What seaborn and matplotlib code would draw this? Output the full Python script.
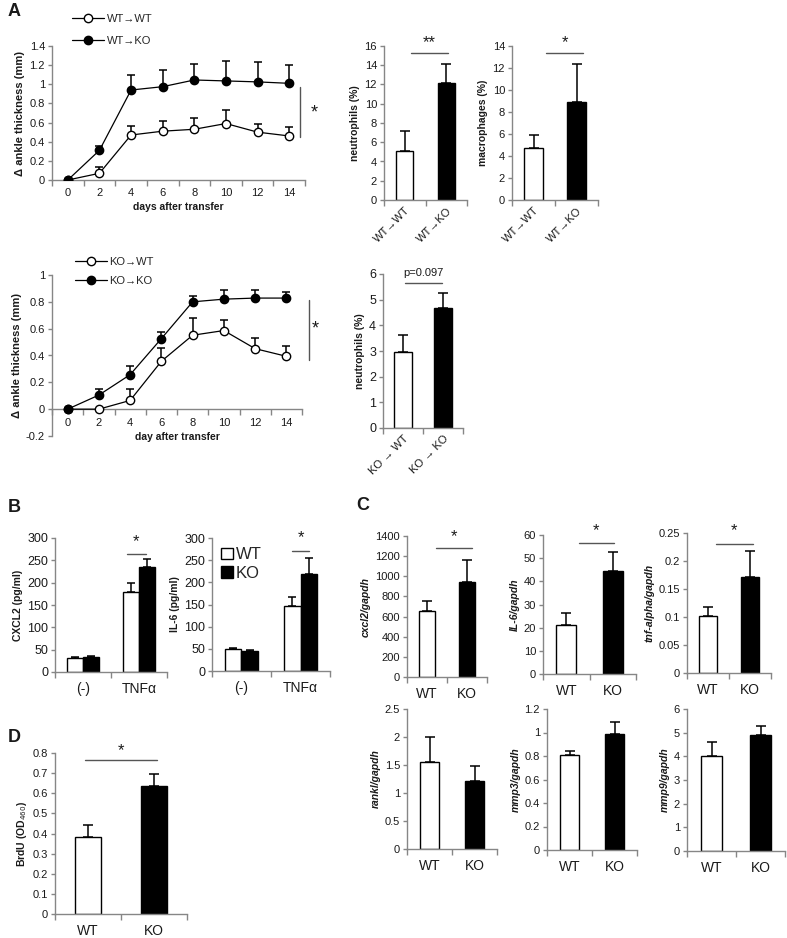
import numpy as np
import pandas as pd
import seaborn as sns
import matplotlib
matplotlib.use('Agg')
from matplotlib import pyplot as plt

# ---- data ----
# A: ankle swelling after transfer
days = [0, 2, 4, 6, 8, 10, 12, 14]
wt_wt = [0, 0.07, 0.47, 0.51, 0.53, 0.59, 0.50, 0.46]
wt_wt_err = [0, 0.07, 0.09, 0.11, 0.12, 0.14, 0.09, 0.09]
wt_ko = [0, 0.31, 0.94, 0.975, 1.045, 1.035, 1.025, 1.01]
wt_ko_err = [0, 0.05, 0.16, 0.175, 0.17, 0.205, 0.205, 0.19]
ko_wt = [0, 0, 0.065, 0.357, 0.551, 0.586, 0.451, 0.394]
ko_wt_err = [0, 0, 0.085, 0.10, 0.125, 0.075, 0.08, 0.08]
ko_ko = [0, 0.105, 0.257, 0.526, 0.80, 0.82, 0.828, 0.828]
ko_ko_err = [0, 0.047, 0.063, 0.05, 0.043, 0.068, 0.06, 0.047]

# A: cell percentages
neut_top = [5.1, 12.2]
neut_top_err = [2.1, 1.9]
macro = [4.75, 8.9]
macro_err = [1.2, 3.5]
neut_bot = [2.96, 4.68]
neut_bot_err = [0.68, 0.59]

# B: cytokines (error order: (-) WT, (-) KO, TNFa WT, TNFa KO)
conditions = ['(-)', 'TNFα']
cxcl2_wt = [30.7, 178.7]
cxcl2_ko = [33, 234.7]
cxcl2_err = [2, 2, 21, 19]
il6_wt = [49, 146]
il6_ko = [45, 219]
il6_err = [3, 2, 21, 36]

# C: mRNA / gapdh
cxcl2_g = [655, 940]
cxcl2_g_err = [97, 222]
il6_g = [21.1, 44.5]
il6_g_err = [5.1, 8.3]
tnf_g = [0.102, 0.172]
tnf_g_err = [0.015, 0.046]
rankl_g = [1.56, 1.21]
rankl_g_err = [0.435, 0.28]
mmp3_g = [0.81, 0.987]
mmp3_g_err = [0.035, 0.105]
mmp9_g = [4.01, 4.90]
mmp9_g_err = [0.61, 0.38]

# D: BrdU
brdu = [0.383, 0.634]
brdu_err = [0.057, 0.063]

sns.set_style('white')
plt.rcParams['font.family'] = ['Liberation Sans', 'DejaVu Sans']
plt.rcParams['axes.linewidth'] = 1.0

W, H = 787, 938
fig = plt.figure(figsize=(W / 100, H / 100), dpi=100)
GREY = '#868686'
TXT = '#1a1a1a'


def px_axes(x0, x1, ytop, ybot):
    return fig.add_axes([x0 / W, 1 - ybot / H, (x1 - x0) / W, (ybot - ytop) / H])


def style(ax, ylim, yticks, ylabel, italic=False, fs=8, lfs=7.5):
    for s in ['top', 'right']:
        ax.spines[s].set_visible(False)
    for s in ['left', 'bottom']:
        ax.spines[s].set_color(GREY)
    ax.set_ylim(*ylim)
    ax.set_yticks(yticks)
    ax.tick_params(axis='y', length=3, width=1, color=GREY, labelsize=fs,
                   labelcolor=TXT, pad=2, direction='out', left=True)
    ax.set_ylabel(ylabel, fontsize=lfs, fontweight='bold',
                  fontstyle='italic' if italic else 'normal', color=TXT, labelpad=3)
    ax.set_xlabel('')


def cat_ticks(ax, n, labels, fs=10, rot=0, pad=6):
    ax.set_xlim(-0.5, n - 0.5)
    ax.set_xticks(range(n))
    ax.set_xticks(np.arange(-0.5, n, 1), minor=True)
    if rot:
        ax.set_xticklabels(labels, rotation=rot, ha='right', rotation_mode='anchor',
                           fontsize=fs, color=TXT)
    else:
        ax.set_xticklabels(labels, fontsize=fs, color=TXT)
    ax.tick_params(axis='x', which='major', length=0, pad=pad, bottom=True)
    ax.tick_params(axis='x', which='minor', length=4, width=1, color=GREY,
                   direction='out', bottom=True)


def draw_err(ax, errs, cap=3.5):
    bars = sorted([b for c in ax.containers for b in c], key=lambda b: b.get_x())
    for b, e in zip(bars, errs):
        x = b.get_x() + b.get_width() / 2
        ax.errorbar(x, b.get_height(), yerr=[[0], [e]], fmt='none', ecolor='black',
                    elinewidth=1.1, capsize=cap, capthick=1.1, zorder=1)


def sig(ax, x0, x1, y, text, ty, fs=12):
    ax.plot([x0, x1], [y, y], color='#555555', lw=1, clip_on=False)
    ax.text((x0 + x1) / 2, ty, text, ha='center', va='center', fontsize=fs,
            color=TXT, clip_on=False)


def pair_bars(ax, labels, vals, errs, width=0.42):
    sns.barplot(x=labels, y=vals, hue=labels, hue_order=labels, order=labels,
                palette=['white', 'black'], edgecolor='black', linewidth=1,
                width=width, legend=False, ax=ax, zorder=2)
    draw_err(ax, errs)


def line_panel(ax, a, a_err, b, b_err, labels):
    ax.errorbar(days, a, yerr=[np.zeros(len(a)), a_err], fmt='none', ecolor='black',
                elinewidth=1.1, capsize=3, capthick=1.1, zorder=1)
    ax.errorbar(days, b, yerr=[np.zeros(len(b)), b_err], fmt='none', ecolor='black',
                elinewidth=1.1, capsize=3, capthick=1.1, zorder=1)
    sns.lineplot(x=days, y=a, ax=ax, color='black', marker='o', markerfacecolor='white',
                 markeredgecolor='black', markersize=6, markeredgewidth=1,
                 linewidth=0.9, label=labels[0], zorder=3)
    sns.lineplot(x=days, y=b, ax=ax, color='black', marker='o', markerfacecolor='black',
                 markeredgecolor='black', markersize=6, markeredgewidth=1,
                 linewidth=0.9, label=labels[1], zorder=3)
    ax.set_xlim(-1, 15)
    ax.set_xticks(days)
    ax.set_xticks(np.arange(-1, 16, 2), minor=True)
    ax.set_xticklabels([str(d) for d in days], fontsize=8, color=TXT)
    ax.tick_params(axis='x', which='major', length=0, pad=6, bottom=True)
    ax.tick_params(axis='x', which='minor', length=4, width=1, color=GREY,
                   direction='out', bottom=True)


# ---------------- A top: line chart ----------------
ax = px_axes(52, 305, 46, 180)
line_panel(ax, wt_wt, wt_wt_err, wt_ko, wt_ko_err, ['WT→WT', 'WT→KO'])
style(ax, (0, 1.4), [0, 0.2, 0.4, 0.6, 0.8, 1, 1.2, 1.4], 'Δ ankle thickness (mm)', lfs=8)
ax.set_yticklabels(['0', '0.2', '0.4', '0.6', '0.8', '1', '1.2', '1.4'])
ax.set_xlabel('days after transfer', fontsize=7.5, fontweight='bold', color=TXT, labelpad=3)
ax.legend(loc='upper left', bbox_to_anchor=(0.08, 1.24), frameon=False, fontsize=8,
          handlelength=2.9, labelspacing=1.1, borderaxespad=0, borderpad=0,
          handletextpad=0.2)
ax.plot([14.7, 14.7], [0.45, 0.97], color='#555555', lw=1, clip_on=False)
ax.text(15.6, 0.70, '*', fontsize=13, ha='center', va='center', color=TXT, clip_on=False)

# A top: neutrophils
ax = px_axes(384, 467, 46, 200)
pair_bars(ax, ['WT→WT', 'WT→KO'], neut_top, neut_top_err, width=0.4)
style(ax, (0, 16), range(0, 17, 2), 'neutrophils (%)')
cat_ticks(ax, 2, ['WT→WT', 'WT→KO'], fs=8, rot=45, pad=4)
sig(ax, 0.15, 1.05, 15.3, '**', 16.4, fs=12)

# A top: macrophages
ax = px_axes(512, 598, 46, 200)
pair_bars(ax, ['WT→WT', 'WT→KO'], macro, macro_err, width=0.42)
style(ax, (0, 14), range(0, 15, 2), 'macrophages (%)')
cat_ticks(ax, 2, ['WT→WT', 'WT→KO'], fs=8, rot=45, pad=4)
sig(ax, 0.3, 1.15, 13.4, '*', 14.3, fs=12)

# ---------------- A bottom: line chart ----------------
ax = px_axes(52, 302, 275, 436)
ax.spines['bottom'].set_position(('data', 0))
line_panel(ax, ko_wt, ko_wt_err, ko_ko, ko_ko_err, ['KO→WT', 'KO→KO'])
style(ax, (-0.2, 1.0), [-0.2, 0, 0.2, 0.4, 0.6, 0.8, 1.0], 'Δ ankle thickness (mm)', lfs=8)
ax.set_yticklabels(['-0.2', '0', '0.2', '0.4', '0.6', '0.8', '1'])
ax.set_xlabel('day after transfer', fontsize=7.5, fontweight='bold', color=TXT, labelpad=3)
ax.legend(loc='upper left', bbox_to_anchor=(0.09, 1.11), frameon=False, fontsize=8,
          handlelength=2.9, labelspacing=0.75, borderaxespad=0, borderpad=0,
          handletextpad=0.2)
ax.plot([15.45, 15.45], [0.37, 0.81], color='#555555', lw=1, clip_on=False)
ax.text(15.85, 0.60, '*', fontsize=13, ha='center', va='center', color=TXT, clip_on=False)

# A bottom: neutrophils
ax = px_axes(383, 463, 274, 428)
pair_bars(ax, ['KO → WT', 'KO → KO'], neut_bot, neut_bot_err, width=0.45)
style(ax, (0, 6), range(0, 7), 'neutrophils (%)', fs=9)
cat_ticks(ax, 2, ['KO → WT', 'KO → KO'], fs=8, rot=45, pad=4)
sig(ax, 0.05, 0.97, 5.64, '', 5.9)
ax.text(0.5, 6.05, 'p=0.097', fontsize=8, ha='center', va='center', color=TXT, clip_on=False)

# ---------------- B ----------------
def cyto_panel(ax, wt, ko, errs, ylabel):
    df = pd.DataFrame({'cond': conditions * 2, 'val': wt + ko,
                       'geno': ['WT'] * 2 + ['KO'] * 2})
    sns.barplot(data=df, x='cond', y='val', hue='geno', hue_order=['WT', 'KO'],
                palette=['white', 'black'], edgecolor='black', linewidth=1,
                width=0.57, ax=ax, zorder=2)
    draw_err(ax, errs, cap=3)
    style(ax, (0, 300), range(0, 301, 50), ylabel, fs=9)
    cat_ticks(ax, 2, conditions, fs=10, pad=7)


ax = px_axes(55, 167, 538, 672)
cyto_panel(ax, cxcl2_wt, cxcl2_ko, cxcl2_err, 'CXCL2 (pg/ml)')
ax.get_legend().remove()
sig(ax, 0.78, 1.12, 264, '*', 292, fs=12)

ax = px_axes(212, 330, 538, 671)
cyto_panel(ax, il6_wt, il6_ko, il6_err, 'IL-6 (pg/ml)')
handles, labels = ax.get_legend_handles_labels()
ax.legend(handles, labels, loc='upper left', bbox_to_anchor=(0.08, 0.93), frameon=False,
          fontsize=12, handlelength=0.7, handleheight=0.7, handletextpad=0.15,
          labelspacing=0.2, borderaxespad=0, borderpad=0)
sig(ax, 0.85, 1.15, 271, '*', 300, fs=12)

# ---------------- C ----------------
c_panels = [
    ((407, 487, 536, 677), cxcl2_g, cxcl2_g_err, (0, 1400), range(0, 1401, 200), 'cxcl2/gapdh',
     (0.23, 1.12, 1278, 1390)),
    ((543, 636, 535, 674), il6_g, il6_g_err, (0, 60), range(0, 61, 10), 'IL-6/gapdh',
     (0.27, 1.03, 56.4, 62)),
    ((687, 771, 533, 673), tnf_g, tnf_g_err, (0, 0.25), [0, 0.05, 0.1, 0.15, 0.2, 0.25],
     'tnf-alpha/gapdh', (0.19, 1.06, 0.23, 0.254)),
    ((407, 497, 709, 849), rankl_g, rankl_g_err, (0, 2.5), [0, 0.5, 1, 1.5, 2, 2.5],
     'rankl/gapdh', None),
    ((547, 637, 709, 850), mmp3_g, mmp3_g_err, (0, 1.2), [0, 0.2, 0.4, 0.6, 0.8, 1, 1.2],
     'mmp3/gapdh', None),
    ((687, 785, 709, 851), mmp9_g, mmp9_g_err, (0, 6), range(0, 7), 'mmp9/gapdh', None),
]
tick_text = {'tnf-alpha/gapdh': ['0', '0.05', '0.1', '0.15', '0.2', '0.25'],
             'rankl/gapdh': ['0', '0.5', '1', '1.5', '2', '2.5'],
             'mmp3/gapdh': ['0', '0.2', '0.4', '0.6', '0.8', '1', '1.2']}
for box, vals, errs, ylim, yt, ylab, sg in c_panels:
    ax = px_axes(*box)
    pair_bars(ax, ['WT', 'KO'], vals, errs, width=0.42)
    style(ax, ylim, yt, ylab, italic=True, fs=8)
    if ylab in tick_text:
        ax.set_yticklabels(tick_text[ylab])
    cat_ticks(ax, 2, ['WT', 'KO'], fs=10, pad=7)
    if sg:
        sig(ax, sg[0], sg[1], sg[2], '*', sg[3], fs=12)

# ---------------- D ----------------
ax = px_axes(55, 187, 753, 914)
pair_bars(ax, ['WT', 'KO'], brdu, brdu_err, width=0.39)
style(ax, (0, 0.8), [0, 0.1, 0.2, 0.3, 0.4, 0.5, 0.6, 0.7, 0.8], 'BrdU (OD$_{460}$)', fs=8)
ax.set_yticklabels(['0', '0.1', '0.2', '0.3', '0.4', '0.5', '0.6', '0.7', '0.8'])
cat_ticks(ax, 2, ['WT', 'KO'], fs=10, pad=7)
sig(ax, -0.05, 1.05, 0.767, '*', 0.81, fs=12)

# panel letters
for letter, x, y in [('A', 8, 12), ('B', 8, 508), ('C', 356, 505), ('D', 8, 737)]:
    fig.text(x / W, 1 - y / H, letter, fontsize=13, fontweight='bold', va='center', color=TXT)

fig.savefig('out.png', dpi=100)
